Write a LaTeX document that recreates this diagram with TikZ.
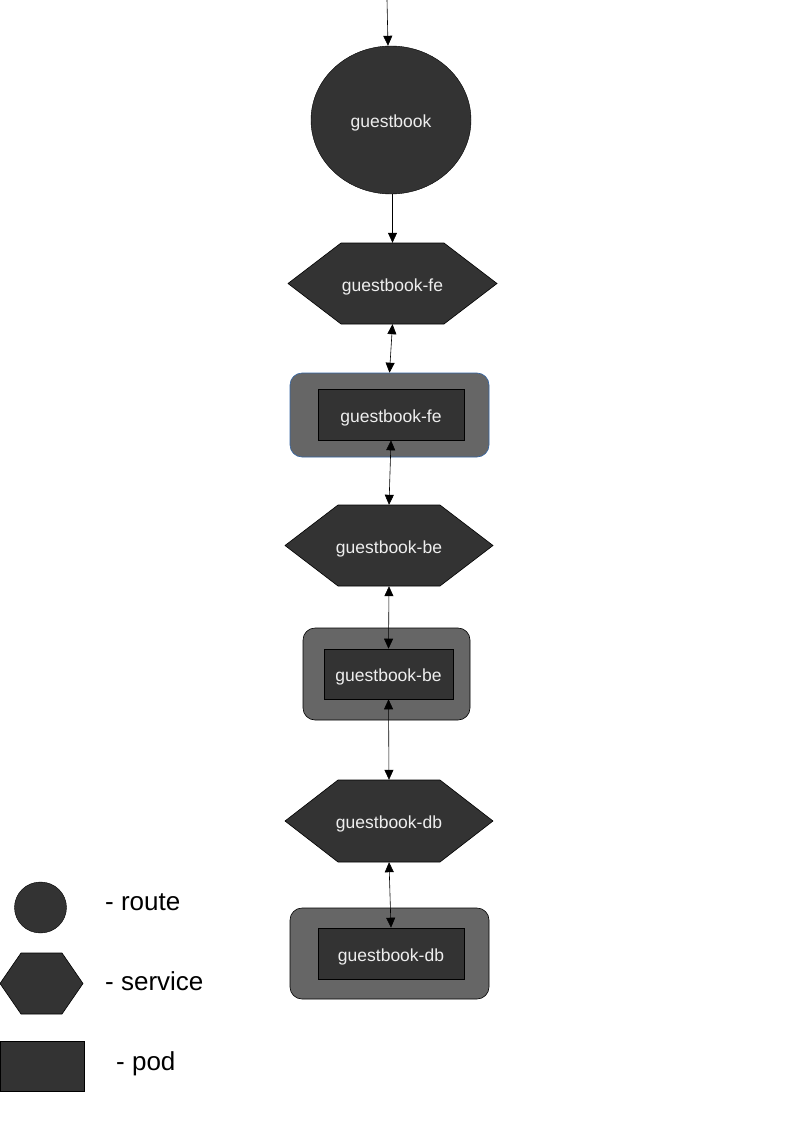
\documentclass[tikz,border=0pt]{standalone}
\usepackage{fontspec}
\setmainfont{Liberation Sans}
\usetikzlibrary{shapes.geometric,arrows.meta}
\definecolor{dark}{HTML}{333333}
\definecolor{mid}{HTML}{666666}
\definecolor{podblue}{HTML}{3465A4}
\definecolor{lbl}{HTML}{EEEEEE}
\tikzset{
  lblfont/.style={text=lbl,font=\fontsize{17.5}{20}\selectfont,text height=18pt,text depth=3pt},
  route/.style={ellipse,draw=black,fill=dark,inner sep=0pt,lblfont},
  svc/.style={rectangle,draw=none,inner sep=0pt,lblfont},
  hexbody/.style={draw=black,fill=dark,line width=0.6pt},
  podouter/.style={rectangle,rounded corners=12pt,draw=black,fill=mid,inner sep=0pt,line width=0.6pt},
  podinner/.style={rectangle,draw=black,fill=dark,inner sep=0pt,lblfont,line width=0.6pt},
  conn/.style={line width=0.6pt,-{Triangle[length=10pt,width=9pt]}},
  bconn/.style={line width=0.6pt,{Triangle[length=10pt,width=9pt]}-{Triangle[length=10pt,width=9pt]}},
  legtext/.style={anchor=west,inner sep=0pt,font=\fontsize{26}{30}\selectfont,text=black}
}
\newcommand{\hexshape}[5]{% cx, cy, w, h, inset
  \draw[hexbody] ({#1-#3/2},{#2}) -- ({#1-#3/2+#5},{#2-#4/2}) -- ({#1+#3/2-#5},{#2-#4/2})
    -- ({#1+#3/2},{#2}) -- ({#1+#3/2-#5},{#2+#4/2}) -- ({#1-#3/2+#5},{#2+#4/2}) -- cycle;}
\begin{document}
\begin{tikzpicture}[x=1pt,y=-1pt]
\useasboundingbox (0,0) rectangle (794,1123);
\fill[white] (0,0) rectangle (794,1123);

% route
\node[route,minimum width=160pt,minimum height=148pt] (route) at (391,120) {guestbook};

% services
\hexshape{392.5}{283.5}{209}{81}{53}
\node[svc,minimum width=209pt,minimum height=81pt] (hfe) at (392.5,283.5) {guestbook-fe};
\hexshape{389}{545.5}{208}{81}{53}
\node[svc,minimum width=208pt,minimum height=81pt] (hbe) at (389,545.5) {guestbook-be};
\hexshape{389}{821}{208}{82}{53}
\node[svc,minimum width=208pt,minimum height=82pt] (hdb) at (389,821) {guestbook-db};

% pods
\node[podouter,draw=podblue,minimum width=199pt,minimum height=84pt] (podfe) at (389.5,415) {};
\node[podinner,minimum width=146pt,minimum height=51pt] (ifa) at (391,414.5) {guestbook-fe};
\node[podouter,minimum width=167pt,minimum height=92pt] (podbe) at (386.5,674) {};
\node[podinner,minimum width=129pt,minimum height=50pt] (ibe) at (388.5,674) {guestbook-be};
\node[podouter,minimum width=199pt,minimum height=91pt] (poddb) at (389.5,953.5) {};
\node[podinner,minimum width=146pt,minimum height=51pt] (idb) at (391,953.5) {guestbook-db};

% connectors
\coordinate (entry) at (387,0);
\draw[conn] (entry) -- ([xshift=-3pt]route.north);
\draw[conn] (hfe.north |- route.south) -- (hfe.north);
\draw[bconn] (hfe.south) -- (podfe.north);
\draw[bconn] (ifa.south) -- (hbe.north);
\draw[bconn] (hbe.south) -- (ibe.north);
\draw[bconn] (ibe.south) -- (hdb.north);
\draw[bconn] (hdb.south) -- (idb.north);

% legend
\node[ellipse,draw=black,fill=dark,minimum width=52pt,minimum height=51pt,inner sep=0pt] (lroute) at (40.5,907.5) {};
\hexshape{41.5}{983.5}{83}{61}{21}
\node[svc,minimum width=83pt,minimum height=61pt] (lsvc) at (41.5,983.5) {};
\node[rectangle,draw=black,fill=dark,minimum width=84pt,minimum height=50pt,inner sep=0pt] (lpod) at (42,1066) {};
\node[legtext] (troute) at (105,902) {- route};
\node[legtext] (tsvc) at (105,981.5) {- service};
\node[legtext] (tpod) at (116,1064) {- pod};
\end{tikzpicture}
\end{document}
